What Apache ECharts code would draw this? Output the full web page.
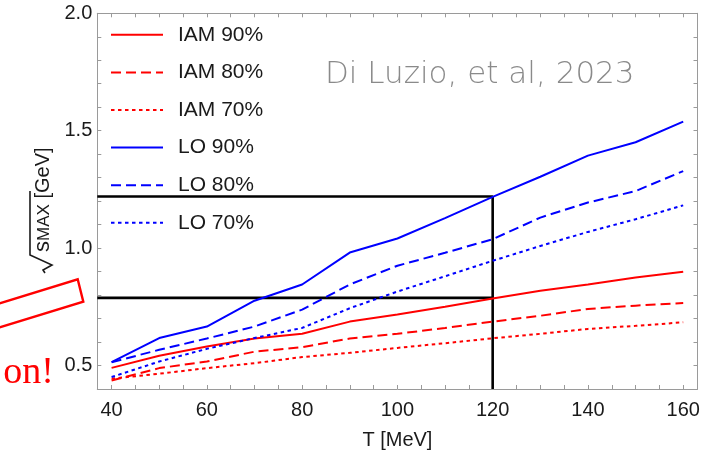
<!DOCTYPE html>
<html><head><meta charset="utf-8">
<script src="https://cdn.jsdelivr.net/npm/echarts@6/dist/echarts.min.js"></script>
<style>html,body{margin:0;padding:0;background:#fff}#c{width:718px;height:455px}</style>
</head><body><div id="c"></div>
<script>
// ---- data ----
const T = [40, 50, 60, 70, 80, 90, 100, 110, 120, 130, 140, 150, 160];
const IAM90 = [0.490, 0.542, 0.581, 0.615, 0.635, 0.687, 0.717, 0.750, 0.785, 0.818, 0.845, 0.875, 0.899];
const IAM80 = [0.436, 0.489, 0.517, 0.559, 0.578, 0.615, 0.635, 0.660, 0.687, 0.712, 0.741, 0.755, 0.766];
const IAM70 = [0.444, 0.465, 0.489, 0.510, 0.536, 0.554, 0.575, 0.595, 0.616, 0.635, 0.656, 0.669, 0.684];
const LO90  = [0.514, 0.617, 0.666, 0.776, 0.845, 0.981, 1.041, 1.128, 1.218, 1.304, 1.394, 1.451, 1.539];
const LO80  = [0.514, 0.567, 0.615, 0.666, 0.738, 0.845, 0.925, 0.980, 1.038, 1.130, 1.194, 1.243, 1.328];
const LO70  = [0.451, 0.517, 0.571, 0.617, 0.660, 0.744, 0.815, 0.880, 0.946, 1.009, 1.069, 1.123, 1.182];
const seriesNames = ['IAM 90%', 'IAM 80%', 'IAM 70%', 'LO 90%', 'LO 80%', 'LO 70%'];
const xLabelTicks = [40, 60, 80, 100, 120, 140, 160];
const xMinorTicks = [40,45,50,55,60,65,70,75,80,85,90,95,100,105,110,115,120,125,130,135,140,145,150,155,160];
const yLabelTicks = [0.5, 1.0, 1.5, 2.0];
const yMinorTicks = [0.5,0.6,0.7,0.8,0.9,1.0,1.1,1.2,1.3,1.4,1.5,1.6,1.7,1.8,1.9,2.0];
const refT = 120;          // vertical reference line at T = 120 MeV
const refUpper = 1.22;     // LO 90% value at T = 120
const refLower = 0.788;    // IAM 90% value at T = 120
const xMin = 37, xMax = 163, yMin = 0.4, yMax = 2.0;

// ---- chart ----
const RED = '#ff0000', BLUE = '#0000ff';
const DASH = [10, 5], DOT = [3.5, 3.5];
function mk(name, vals, color, type) {
  return {
    name, type: 'line', data: T.map((t, i) => [t, vals[i]]),
    symbol: 'none', z: 3,
    lineStyle: { color, width: 2, type, cap: 'butt' },
    itemStyle: { color }
  };
}
const axisCol = '#9a9a9a';
const FONT = 'Liberation Sans, Arial, sans-serif';
const labelStyle = { color: '#1a1a1a', fontSize: 20, fontFamily: FONT };

const chart = echarts.init(document.getElementById('c'), null, { renderer: 'canvas' });
chart.setOption({
  animation: false,
  backgroundColor: '#ffffff',
  grid: { left: 97.3, right: 20.5, top: 13.3, bottom: 65, containLabel: false },
  legend: {
    data: seriesNames.map(n => ({ name: n, itemStyle: { opacity: 0 } })),
    orient: 'vertical', left: 110, top: 24.3, padding: 0,
    itemWidth: 52, itemHeight: 20, itemGap: 16.6,
    itemStyle: { opacity: 0 },
    textStyle: { color: '#1a1a1a', fontSize: 21, fontFamily: FONT, padding: [0, 0, 0, 10], lineHeight: 20 },
    selectedMode: false
  },
  xAxis: [
    { type: 'value', position: 'bottom', min: xMin, max: xMax,
      axisLine: { show: true, lineStyle: { color: axisCol, width: 1 } },
      axisTick: { show: true, inside: true, length: 4, customValues: xMinorTicks, lineStyle: { color: axisCol } },
      axisLabel: { show: true, customValues: xLabelTicks, margin: 11, ...labelStyle },
      splitLine: { show: false },
      name: 'T [MeV]', nameLocation: 'middle', nameGap: 41,
      nameTextStyle: { ...labelStyle } },
    { type: 'value', position: 'top', min: xMin, max: xMax,
      axisLine: { show: true, lineStyle: { color: axisCol, width: 1 } },
      axisTick: { show: true, inside: true, length: 4, customValues: xMinorTicks, lineStyle: { color: axisCol } },
      axisLabel: { show: false }, splitLine: { show: false } }
  ],
  yAxis: [
    { type: 'value', position: 'left', min: yMin, max: yMax,
      axisLine: { show: true, lineStyle: { color: axisCol, width: 1 } },
      axisTick: { show: true, inside: true, length: 4, customValues: yMinorTicks, lineStyle: { color: axisCol } },
      axisLabel: { show: true, customValues: yLabelTicks, margin: 5, formatter: v => v.toFixed(1), ...labelStyle },
      splitLine: { show: false } },
    { type: 'value', position: 'right', min: yMin, max: yMax,
      axisLine: { show: true, lineStyle: { color: axisCol, width: 1 } },
      axisTick: { show: true, inside: true, length: 4, customValues: yMinorTicks, lineStyle: { color: axisCol } },
      axisLabel: { show: false }, splitLine: { show: false } }
  ],
  series: [
    mk('IAM 90%', IAM90, RED, 'solid'),
    mk('IAM 80%', IAM80, RED, DASH),
    mk('IAM 70%', IAM70, RED, DOT),
    mk('LO 90%', LO90, BLUE, 'solid'),
    mk('LO 80%', LO80, BLUE, DASH),
    mk('LO 70%', LO70, BLUE, DOT),
    { name: 'ref-upper', type: 'line', symbol: 'none', silent: true, z: 2,
      data: [[xMin, refUpper], [refT, refUpper], [refT, yMin]],
      lineStyle: { color: '#000', width: 2.6 } },
    { name: 'ref-lower', type: 'line', symbol: 'none', silent: true, z: 2,
      data: [[xMin, refLower], [refT, refLower]],
      lineStyle: { color: '#000', width: 2.6 } }
  ],
  graphic: [
    { type: 'text', left: 325, top: 59, silent: true,
      style: { text: 'Di Luzio, et al, 2023', fill: '#8a8a8a', fontSize: 31, fontWeight: 300,
               fontFamily: 'DejaVu Sans, sans-serif' } },
    { type: 'group', x: 44, y: 205, rotation: Math.PI / 2, silent: true,
      children: [
        { type: 'polyline', shape: { points: [[-68, 1], [-65, -1], [-60, 8], [-50, -14], [14, -14]] },
          style: { stroke: '#1a1a1a', lineWidth: 1.6, fill: null } },
        { type: 'text', x: -47, y: -1,
          style: { text: '{s|s}{m|MAX} [GeV]', fill: '#1a1a1a', fontSize: 20, verticalAlign: 'middle', align: 'left',
                   fontFamily: FONT,
                   rich: { s: { fontSize: 22, fontFamily: FONT },
                           m: { fontSize: 17, fontFamily: FONT, padding: [3, 0, 0, 0] } } } }
      ] },
    { type: 'polygon', silent: true,
      shape: { points: [[-20, 309.4], [77.7, 279.3], [83.3, 301.7], [-20, 333.4]] },
      style: { stroke: '#ff0000', lineWidth: 2.4, fill: null } },
    { type: 'text', x: 54, y: 373, silent: true,
      style: { text: 'on!', fill: '#ff0000', fontSize: 38, align: 'right', verticalAlign: 'middle',
               fontFamily: 'Liberation Serif, Times New Roman, serif' } }
  ]
});
</script>
</body></html>
